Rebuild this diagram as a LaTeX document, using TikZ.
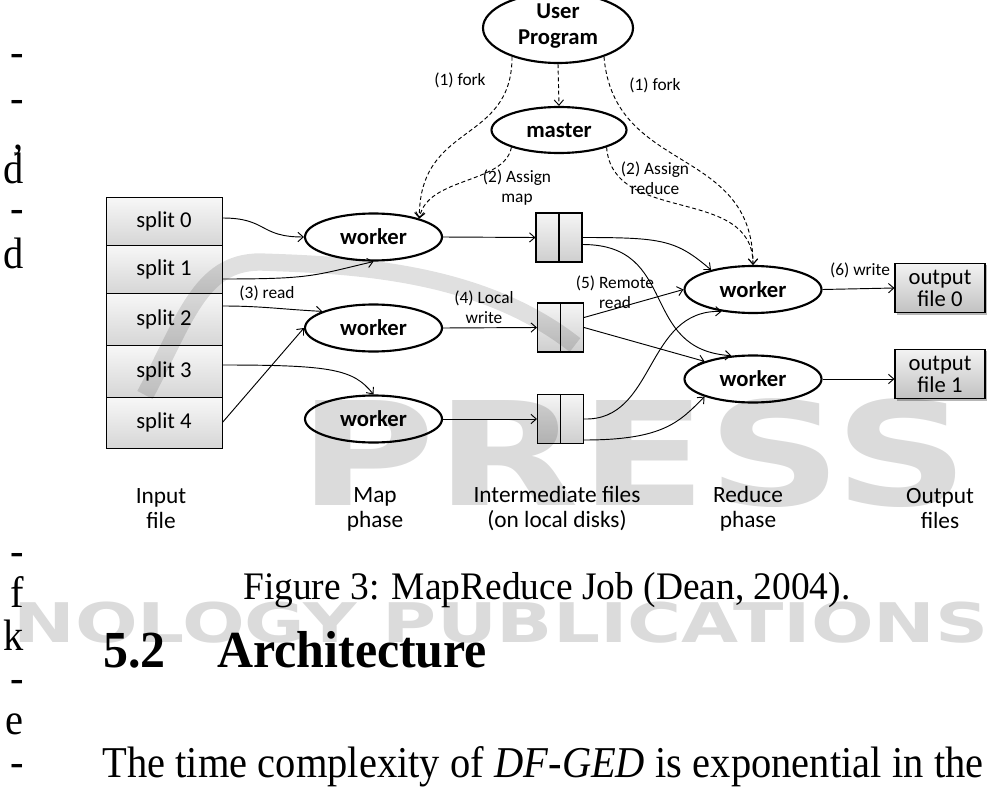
\documentclass[tikz,border=0pt]{standalone}
\usepackage{fontspec}
\setmainfont{Carlito}
\newfontfamily\tnrcap[FakeStretch=0.96]{Liberation Serif}
\newfontfamily\tnrbody[FakeStretch=0.92]{Liberation Serif}
\newfontfamily\wmfont[FakeStretch=1.35]{DejaVu Sans}
\newfontfamily\wmbig[FakeStretch=1.3]{DejaVu Sans}
\usetikzlibrary{shapes.geometric,arrows.meta,shadows}
\tikzset{
  wk/.style={ellipse, draw, line width=1.6pt, fill=white, inner sep=0pt,
    minimum width=102.75pt, minimum height=35.25pt,
    font=\fontsize{17}{19.5}\selectfont\bfseries},
  splitbox/.style={rectangle, draw, line width=0.6pt, minimum width=87pt,
    top color=gray!6, bottom color=gray!32, inner sep=0pt,
    font=\fontsize{17}{19.5}\selectfont},
  interbox/.style={rectangle, draw, line width=0.8pt, minimum width=34.5pt,
    minimum height=36.75pt, top color=gray!8, bottom color=gray!38, inner sep=0pt},
  outbox/.style={rectangle, draw, line width=0.8pt, minimum width=67.5pt,
    minimum height=37pt, top color=gray!10, bottom color=gray!48, inner sep=0pt,
    align=center, font=\fontsize{17}{16.5}\selectfont,
    drop shadow={shadow xshift=1.6pt, shadow yshift=-1.6pt, opacity=0.7, fill=gray!80}},
  conn/.style={draw, line width=0.7pt, -{Straight Barb[length=4pt,width=7pt]}},
  dconn/.style={conn, dash pattern=on 3pt off 2pt},
  lbl/.style={font=\fontsize{13}{15}\selectfont, align=center, inner sep=0pt},
  phase/.style={font=\fontsize{17.5}{18.75}\selectfont, align=center, inner sep=0pt},
  frag/.style={font=\fontsize{33}{36}\tnrbody, anchor=base east, inner sep=0pt},
  wm/.style={opacity=0.14, inner sep=0pt},
}
\begin{document}
\begin{tikzpicture}[x=0.75pt, y=-0.75pt]
\useasboundingbox (0,0) rectangle (988,806);

% ---- top ellipses
\node[wk, minimum width=112.5pt, minimum height=52.5pt] (up) at (558,28) {};
\node[align=center, inner sep=0pt, font=\fontsize{17}{19.5}\selectfont\bfseries] (upt) at (558,26) {User\\Program};
\node[wk, minimum width=101.25pt, minimum height=34.5pt] (master) at (559,130) {master};

% ---- input splits
\node[splitbox, minimum height=36pt] (s0) at (164,221) {split 0};
\node[splitbox, minimum height=36pt] (s1) at (164,269) {split 1};
\node[splitbox, minimum height=39pt] (s2) at (164,319) {split 2};
\node[splitbox, minimum height=39pt] (s3) at (164,371) {split 3};
\node[splitbox, minimum height=38.25pt] (s4) at (164,422.5) {split 4};

% ---- map workers
\node[wk] (w1) at (373.5,237) {worker};
\node[wk] (w2) at (373.5,328) {worker};
\node[wk] (w3) at (373.5,419) {worker};

% ---- intermediate files
\node[interbox] (b1) at (559,237.5) {};
\node[interbox] (b2) at (560.5,327.5) {};
\node[interbox] (b3) at (560.5,419) {};
\draw[line width=0.8pt] (b1.north) -- (b1.south);
\draw[line width=0.8pt] (b2.north) -- (b2.south);
\draw[line width=0.8pt] (b3.north) -- (b3.south);

% ---- reduce workers
\node[wk] (r1) at (753,289.5) {worker};
\node[wk] (r2) at (753,379) {worker};

% ---- output files
\node[outbox] (o0) at (940,288) {output\\file 0};
\node[outbox] (o1) at (940,374) {output\\file 1};

% ---- dashed control arrows
\draw[dconn] (up.south) -- (master.north);
\draw[dconn] (up.212) .. controls +(0,88) and +(0,-97) .. (w1.22);
\draw[dconn] (master.200) .. controls +(-7,37) and +(8,-42) .. (w1.22);
\draw[dconn] (up.328) .. controls +(10,118) and +(0,-120) .. (r1.north);
\draw[dconn] (master.340) .. controls +(6,78) and +(0,-80) .. (r1.north);

% ---- reads
\draw[conn] ([yshift=2.25pt]s0.east) .. controls +(45,0) and +(-45,0) .. (w1.west);
\draw[conn] ([yshift=-7.5pt]s1.east) .. controls +(90,0) and +(-60,14) .. (w1.south);
\draw[conn] ([yshift=9.75pt]s2.east) .. controls +(40,0) and +(-40,-2) .. (w2.162);
\draw[conn] (s4.east) -- (w2.west);
\draw[conn] ([yshift=4.5pt]s3.east) .. controls +(110,0) and +(-20,-25) .. (w3.north);

% ---- local writes
\draw[conn] (w1.east) -- (b1.west);
\draw[conn] (w2.east) -- (b2.west);
\draw[conn] (w3.east) -- (b3.west);

% ---- remote reads
\draw[conn] (b1.east) .. controls +(80,0) and +(-35,-30) .. (r1.155);
\draw[conn] ([yshift=-5.25pt]b1.east) .. controls +(97,0) and +(-93,-6) .. (r2.133);
\draw[conn] ([yshift=7.5pt]b2.east) -- (r1.west);
\draw[conn] (b2.east) -- (r2.160);
\draw[conn] (b3.east) .. controls +(72,2) and +(-77,-2) .. (r1.215);
\draw[conn] ([yshift=-15.75pt]b3.east) .. controls +(80,0) and +(-25,25) .. (r2.200);

% ---- writes
\draw[conn] (r1.east) -- (o0.west);
\draw[conn] (r2.east) -- (r2.east -| o1.west);

% ---- labels
\node[lbl] (lf1) at (460,80) {(1) fork};
\node[lbl] (lf2) at (655,85) {(1) fork};
\node[lbl] (la1) at (517,188) {(2) Assign\\map};
\node[lbl] (la2) at (655,178.5) {(2) Assign\\reduce};
\node[lbl] (lrd) at (267,293) {(3) read};
\node[lbl] (llw) at (484,307) {(4) Local\\write};
\node[lbl] (lrr) at (615,292) {(5) Remote\\read};
\node[lbl] (lwr) at (860,270) {(6) write};

% ---- phase captions
\node[phase] (p1) at (161,509) {Input\\file};
\node[phase] (p2) at (375,509) {Map\\phase};
\node[phase] (p3) at (557,509) {Intermediate files\\(on local disks)};
\node[phase] (p4) at (748,509) {Reduce\\phase};
\node[phase] (p5) at (940,509) {Output\\files};

% ---- page text
\node[anchor=base west, inner sep=0pt, font=\fontsize{29.25}{32}\tnrcap] (cap) at (243,599)
  {Figure 3: MapReduce Job (Dean, 2004).};
\node[anchor=base west, inner sep=0pt, font=\fontsize{39}{42}\tnrcap\bfseries] (secn) at (103,667) {5.2};
\node[anchor=base west, inner sep=0pt, font=\fontsize{39}{42}\tnrcap\bfseries] (sect) at (217,667) {Architecture};
\node[anchor=base west, inner sep=0pt, font=\fontsize{33}{36}\tnrbody] (body) at (102,777)
  {\makebox[661pt][s]{The time complexity of \textit{DF-GED} is exponential in the}};

% ---- cut-off text of the left column
\node[frag] (f1) at (24,67) {-};
\node[frag] (f2) at (24,113) {-};
\node[frag] (f3) at (24,150) {,};
\node[frag] (f4) at (24,183) {d};
\node[frag] (f5) at (24,222) {-};
\node[frag] (f6) at (24,268) {d};
\node[frag] (f7) at (24,565) {-};
\node[frag] (f8) at (24,607) {f};
\node[frag] (f9) at (24,650) {k};
\node[frag] (f10) at (24,692) {-};
\node[frag] (f11) at (24,734) {e};
\node[frag] (f12) at (24,776) {-};

% ---- watermark
\node[wm, anchor=base west, font=\fontsize{41}{44}\wmfont\bfseries] (wm1) at (13,642) {NOLOGY PUBLICATIONS};
\node[wm, anchor=base west, font=\fontsize{108}{110}\wmbig\bfseries] (wm2) at (298,505) {PRESS};
\draw[opacity=0.12, line width=13pt] (145,395) .. controls (185,320) and (200,262) .. (260,262)
  .. controls (350,265) and (480,270) .. (575,345);
\end{tikzpicture}
\end{document}
